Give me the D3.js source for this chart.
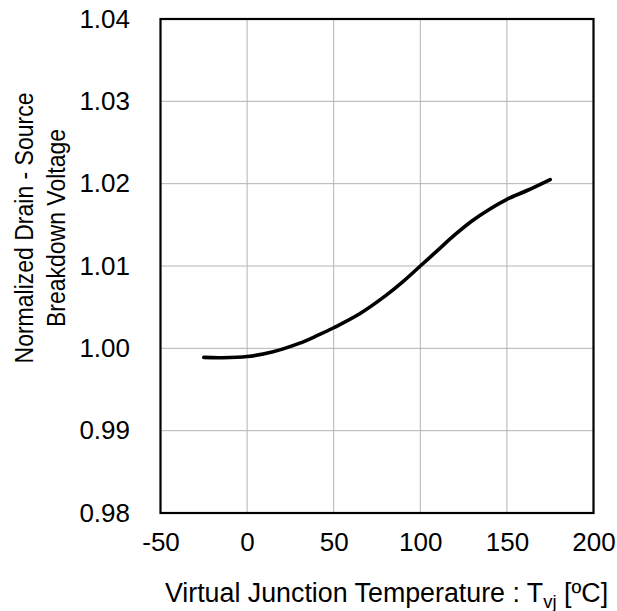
<!DOCTYPE html>
<html>
<head>
<meta charset="utf-8">
<script src="https://cdn.jsdelivr.net/npm/d3@7"></script>
<style>
  html, body { margin: 0; padding: 0; background: #fff; }
  svg { display: block; font-family: "Liberation Sans", Arial, sans-serif; }
</style>
</head>
<body>
<svg id="chart" width="617" height="611"></svg>
<script>
// Junction temperature (°C) and normalized drain-source breakdown voltage
const temperature = [-25, -15, 0, 15, 30, 40, 50, 65, 80, 90, 100, 110, 120, 130, 140, 150, 162, 175];
const bvdssNorm = [0.9989, 0.99886, 0.9990, 0.99959, 1.0006, 1.0015, 1.0025, 1.0042, 1.0064, 1.0081, 1.0100, 1.0119, 1.0138, 1.0155, 1.0169, 1.0181, 1.0192, 1.0205];

const xTicks = [-50, 0, 50, 100, 150, 200];
const yTicks = [0.98, 0.99, 1.00, 1.01, 1.02, 1.03, 1.04];

const svg = d3.select("#chart");
const plotL = 160.5, plotR = 593.5, plotT = 19, plotB = 513;

const x = d3.scaleLinear().domain([-50, 200]).range([plotL, plotR]);
const y = d3.scaleLinear().domain([0.98, 1.04]).range([plotB, plotT]);

// grid
svg.append("g")
  .selectAll("line")
  .data(xTicks.slice(1, -1))
  .join("line")
  .attr("x1", d => x(d)).attr("x2", d => x(d))
  .attr("y1", plotT).attr("y2", plotB)
  .attr("stroke", "#b4b4b4").attr("stroke-width", 1);
svg.append("g")
  .selectAll("line")
  .data(yTicks.slice(1, -1))
  .join("line")
  .attr("x1", plotL).attr("x2", plotR)
  .attr("y1", d => y(d)).attr("y2", d => y(d))
  .attr("stroke", "#b4b4b4").attr("stroke-width", 1);

// axes (labels only, frame drawn separately); plain hyphen for negatives
const xAxis = svg.append("g")
  .attr("transform", `translate(0,${plotB})`)
  .call(d3.axisBottom(x).tickValues(xTicks).tickSize(0).tickPadding(20).tickFormat(d => String(d)));
const yAxis = svg.append("g")
  .attr("transform", `translate(${plotL},0)`)
  .call(d3.axisLeft(y).tickValues(yTicks).tickSize(0).tickPadding(30.5).tickFormat(d => d.toFixed(2)));
[xAxis, yAxis].forEach(a => {
  a.select(".domain").remove();
  a.selectAll("text")
    .attr("font-family", "'Liberation Sans', Arial, sans-serif")
    .attr("font-size", 26).attr("fill", "#000");
});

// frame
svg.append("rect")
  .attr("x", plotL).attr("y", plotT)
  .attr("width", plotR - plotL).attr("height", plotB - plotT)
  .attr("fill", "none").attr("stroke", "#000").attr("stroke-width", 2.2);

// curve
const line = d3.line()
  .x((d, i) => x(temperature[i]))
  .y(d => y(d))
  .curve(d3.curveCatmullRom.alpha(0.5));
svg.append("path")
  .datum(bvdssNorm)
  .attr("d", line)
  .attr("fill", "none")
  .attr("stroke", "#000")
  .attr("stroke-width", 3.6)
  .attr("stroke-linecap", "round");

// x title
const xt = svg.append("text")
  .attr("x", 386.5).attr("y", 602)
  .attr("text-anchor", "middle")
  .attr("font-size", 26.8).attr("fill", "#000");
xt.append("tspan").text("Virtual Junction Temperature : T");
xt.append("tspan").attr("font-size", 18.5).attr("dy", 6).text("vj");
xt.append("tspan").attr("dy", -6).text(" [ºC]");

// y title (slightly condensed glyphs)
const yt = svg.append("text")
  .attr("transform", "translate(0,228) rotate(-90) scale(0.92,1)")
  .attr("text-anchor", "middle")
  .attr("font-size", 25).attr("fill", "#000");
yt.append("tspan").attr("x", 0).attr("y", 33).text("Normalized Drain - Source");
yt.append("tspan").attr("x", 0).attr("y", 65).text("Breakdown Voltage");
</script>
</body>
</html>
